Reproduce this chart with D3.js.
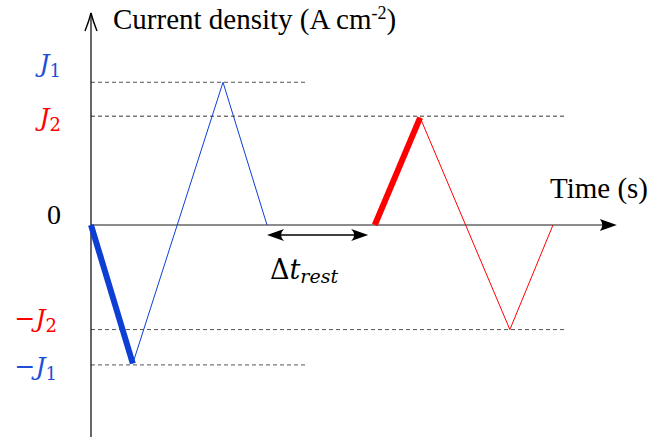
<!DOCTYPE html>
<html><head><meta charset="utf-8">
<script src="https://cdn.jsdelivr.net/npm/d3@7"></script>
<style>body{margin:0;background:#fff}svg{display:block}
.serif{font-family:"Liberation Serif","Times New Roman",Tinos,Times,"DejaVu Serif",serif}
.math{font-family:"DejaVu Serif","Liberation Serif","Times New Roman",serif}
</style>
</head><body>
<script>
// ---- data ----
const blueTimes   = [0, 0.95, 3.0, 4.0];
const blueValues  = [0, -0.98, 1.01, 0];
const redTimes    = [6.45, 7.48, 9.52, 10.5];
const redValues   = [0, 0.76, -0.74, 0];
const levelValues = [1.01, 0.77, -0.74, -0.99];
const levelEnds   = [4.9, 10.8, 10.8, 4.9];
const tickValues  = [1.01, 0.77, 0, -0.74, -0.99];
const tickNames   = ["J1", "J2", "0", "-J2", "-J1"];
const restStart = 4.0, restEnd = 6.3;

const W = 651, H = 439;
const svg = d3.select("body").append("svg").attr("width", W).attr("height", H);
const x = d3.scaleLinear().domain([0, 12]).range([91, 91 + 12 * 44]);
const y = d3.scaleLinear().domain([-1.5, 1.5]).range([437, 13]);

const BLUE = "#0d3fd4", RED = "#ff0000";

// dashed level lines
levelValues.forEach((v, i) => {
  svg.append("line").attr("x1", x(0)).attr("x2", x(levelEnds[i]))
    .attr("y1", y(v)).attr("y2", y(v))
    .attr("stroke", i === 1 ? "#333" : "#555").attr("stroke-width", 1)
    .attr("stroke-dasharray", "4,3");
});

// axes
svg.append("line").attr("x1", x(0)).attr("x2", x(11.85)).attr("y1", y(0)).attr("y2", y(0))
  .attr("stroke", "#666").attr("stroke-width", 1.6);
const xe = x(11.95), y0 = y(0);
svg.append("path").attr("d", `M${xe},${y0} L${xe-17},${y0-6} Q${xe-12},${y0} ${xe-17},${y0+6} Z`).attr("fill", "#000");
svg.append("line").attr("x1", x(0)).attr("x2", x(0)).attr("y1", y(-1.5)).attr("y2", y(1.5))
  .attr("stroke", "#000").attr("stroke-width", 1.2);
const xa = x(0), ya = y(1.5);
svg.append("path").attr("d", `M${xa-6},${ya+18} Q${xa-2},${ya+8} ${xa},${ya} Q${xa+2},${ya+8} ${xa+6},${ya+18}`)
  .attr("fill", "none").attr("stroke", "#000").attr("stroke-width", 1.4);

// series
const line = d3.line().x(d => x(d[0])).y(d => y(d[1]));
const bluePts = blueTimes.map((t, i) => [t, blueValues[i]]);
const redPts = redTimes.map((t, i) => [t, redValues[i]]);
svg.append("path").attr("d", line(bluePts.slice(1))).attr("fill", "none").attr("stroke", BLUE).attr("stroke-width", 1);
svg.append("path").attr("d", line(bluePts.slice(0, 2))).attr("fill", "none").attr("stroke", BLUE).attr("stroke-width", 6);
svg.append("path").attr("d", line(redPts.slice(1))).attr("fill", "none").attr("stroke", RED).attr("stroke-width", 1);
svg.append("path").attr("d", line(redPts.slice(0, 2))).attr("fill", "none").attr("stroke", RED).attr("stroke-width", 6);

// rest arrow
const ay = y(0) + 10, ax1 = x(restStart), ax2 = x(restEnd);
svg.append("line").attr("x1", ax1 + 6).attr("x2", ax2 - 6).attr("y1", ay).attr("y2", ay).attr("stroke", "#000").attr("stroke-width", 1.3);
svg.append("path").attr("d", `M${ax1},${ay} L${ax1+17},${ay-6} Q${ax1+11},${ay} ${ax1+17},${ay+6} Z`).attr("fill", "#000");
svg.append("path").attr("d", `M${ax2},${ay} L${ax2-17},${ay-6} Q${ax2-11},${ay} ${ax2-17},${ay+6} Z`).attr("fill", "#000");

// tick labels
const tickStyle = [
  {dy: -10, color: "#1f4fd6", x: 61},
  {dy: 10, color: RED, x: 61},
  {dy: 0, color: "#000", x: 61},
  {dy: -3, color: RED, x: 57},
  {dy: 10, color: "#1f4fd6", x: 57}
];
tickNames.forEach((name, i) => {
  const st = tickStyle[i];
  const t = svg.append("text").attr("x", st.x).attr("y", y(tickValues[i]) + st.dy)
    .attr("text-anchor", "end").attr("fill", st.color)
    .attr("class", "math").style("font-size", "25px");
  if (name === "0") {
    t.attr("y", y(0) - 1).attr("class", "serif").style("font-size", "28px").text("0");
    return;
  }
  const neg = name[0] === "-";
  if (neg) t.append("tspan").text("\u2212");
  t.append("tspan").style("font-style", "italic").text("J");
  t.append("tspan").attr("dy", 5).style("font-size", "18px").text(name[name.length - 1]);
});

// axis titles
const title = svg.append("text").attr("x", 113).attr("y", 29).attr("class", "serif")
  .style("font-size", "29px").attr("fill", "#000");
title.append("tspan").text("Current density (A cm");
title.append("tspan").attr("dy", -10).style("font-size", "18px").text("-2");
title.append("tspan").attr("dy", 10).text(")");
svg.append("text").attr("x", 648).attr("y", 198).attr("text-anchor", "end").attr("class", "serif")
  .style("font-size", "29px").text("Time (s)");

// delta t rest
const dt = svg.append("text").attr("x", 270).attr("y", 279).attr("class", "math")
  .style("font-size", "27px").attr("fill", "#000");
dt.append("tspan").text("\u0394");
dt.append("tspan").style("font-style", "italic").text("t");
dt.append("tspan").attr("dy", 4).style("font-style", "italic").style("font-size", "19px").text("rest");
</script>
</body></html>
